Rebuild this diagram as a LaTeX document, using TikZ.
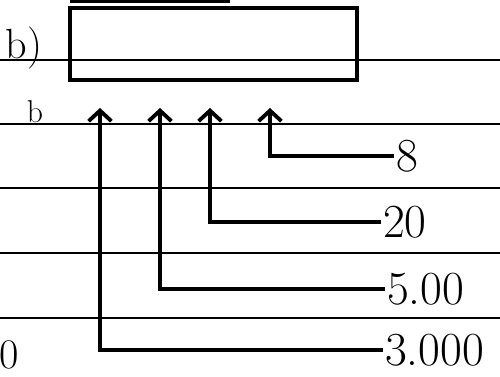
\documentclass[tikz,border=0pt]{standalone}
\usepackage{tikz}
\usetikzlibrary{arrows,arrows.meta,positioning,calc}

\begin{document}
\begin{tikzpicture}[
			x = 0.02cm, y = -0.02cm,
			post/.style={-{Straight Barb[length=6pt,width=13pt]},shorten >=0pt,line width=2.2pt},
			rule/.style={line width=1.1pt},
			val/.style={anchor=west,inner sep=1pt,font=\fontsize{27}{29}\selectfont},
			tag/.style={inner sep=0pt,font=\fontsize{24}{26}\selectfont},
		bar/.style={draw,line width=2.8pt,minimum width=5.74cm,minimum height=1.44cm,inner sep=0pt}]

		\useasboundingbox (0,0) rectangle (500,377);

		% paper rules
		\foreach \y in {60,124,188,253,318}
			\draw[rule] (0,\y) -- (500,\y);
		\draw[line width=2.8pt] (70,1) -- (230,1);

		\node[bar]  (beam) at (213.5,44) {};
		\node[tag] (lblb) at (24,48) {b)};
		\node[tag,font=\fontsize{18}{20}\selectfont] (lbb) at (35,112) {b};
		\node[tag] (lbo) at (9,355) {0};

		\coordinate (t3000) at (100,108);
		\coordinate (t500)  at (160,108);
		\coordinate (t20)   at (210,108);
		\coordinate (t8)    at (270,108);

		\node[val]  (v8)    at (394,156) {8};
		\node[val]  (v20)   at (381,222) {20};
		\node[val]  (v500)  at (385,289) {5.00};
		\node[val]  (v3000) at (383,350) {3.000};

		\draw[post] (v8.west) -| (t8);
		\draw[post] (v20.west) -| (t20);
		\draw[post] (v500.west) -| (t500);
		\draw[post] (v3000.west) -| (t3000);
	\end{tikzpicture}
\end{document}
